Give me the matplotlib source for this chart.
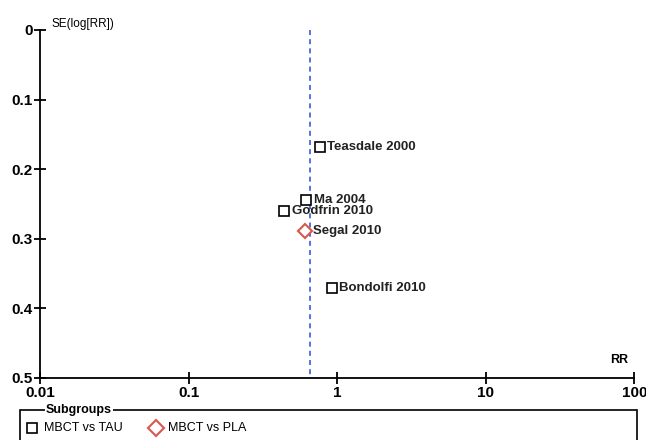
import matplotlib
matplotlib.use('Agg')
import matplotlib.pyplot as plt
from matplotlib.lines import Line2D
from matplotlib.patches import Rectangle

plt.rcParams['font.family'] = ['Liberation Sans', 'DejaVu Sans']

## data
studies = ['Teasdale 2000', 'Ma 2004', 'Godfrin 2010', 'Segal 2010', 'Bondolfi 2010']
rr = [0.76, 0.62, 0.44, 0.61, 0.92]
se = [0.168, 0.245, 0.26, 0.289, 0.371]
group = ['TAU', 'TAU', 'TAU', 'PLA', 'TAU']
pooled_rr = 0.66
x_ticks = [0.01, 0.1, 1, 10, 100]
x_tick_lab = ['0.01', '0.1', '1', '10', '100']
y_ticks = [0, 0.1, 0.2, 0.3, 0.4, 0.5]
y_tick_lab = ['0', '0.1', '0.2', '0.3', '0.4', '0.5']

red = '#d9574f'
fs = 11.

fig = plt.figure(figsize=(6.46, 4.40), dpi=100)
ax = fig.add_axes([0.062, 0.141, 0.92, 0.791])

ax.plot([pooled_rr, pooled_rr], [0, 0.5], color='#3b5bd6', ls=(0, (3, 2.5)), lw=1.2, zorder=1)

for nam, x, y, g in zip(studies, rr, se, group):
    if g == 'TAU':
        ax.plot(x, y, marker='s', ms=6.5, mfc='white', mec='black', mew=1.2, ls='none', zorder=3)
    else:
        ax.plot(x, y, marker='D', ms=7, mfc='white', mec=red, mew=1.5, ls='none', zorder=3)
    ax.annotate(nam, (x, y), xytext=(5.5, 0), textcoords='offset points', va='center', ha='left',
                fontsize=9.5, fontweight='bold', color='#222222')

ax.set_xscale('log')
ax.set_xlim(0.01, 100)
ax.set_ylim(0.5, 0)
ax.set_xticks(x_ticks)
ax.set_xticklabels(x_tick_lab)
ax.set_yticks(y_ticks)
ax.set_yticklabels(y_tick_lab)
ax.minorticks_off()
for s in ['top', 'right']:
    ax.spines[s].set_visible(False)
for s in ['left', 'bottom']:
    ax.spines[s].set_linewidth(1.3)
ax.tick_params(direction='inout', length=9, width=1.3, labelsize=fs, pad=1)
for lab in ax.get_xticklabels() + ax.get_yticklabels():
    lab.set_fontweight('bold')

ax.text(0.012, 0.0, 'SE(log[RR])', fontsize=8.5, va='bottom', ha='left', transform=ax.transData)
ax.text(0.99, 0.035, 'RR', fontsize=9, fontweight='bold', ha='right', va='bottom', transform=ax.transAxes)

## legend box drawn by hand
fig.patches.append(Rectangle((20/646, -0.05), 617/646, 0.05 + 1 - 410/440, transform=fig.transFigure,
                             fill=False, ec='black', lw=1.2))
fig.text(46/646, 1 - 410/440, 'Subgroups', fontsize=9, fontweight='bold', va='center', ha='left',
         bbox=dict(fc='white', ec='none', pad=1))
fig.add_artist(Line2D([32/646], [1 - 428/440], marker='s', ms=7, mfc='white', mec='black', mew=1.2,
                      transform=fig.transFigure))
fig.text(44/646, 1 - 428/440, 'MBCT vs TAU', fontsize=9, va='center', ha='left')
fig.add_artist(Line2D([156/646], [1 - 428/440], marker='D', ms=8, mfc='white', mec=red, mew=1.5,
                      transform=fig.transFigure))
fig.text(168/646, 1 - 428/440, 'MBCT vs PLA', fontsize=9, va='center', ha='left')

fig.savefig('out.png', dpi=100)
